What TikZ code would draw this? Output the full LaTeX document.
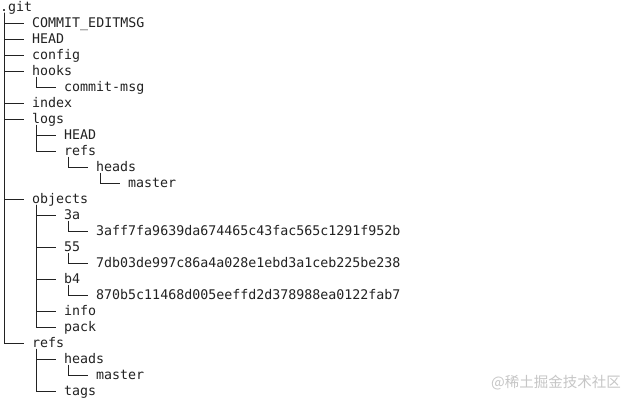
\documentclass[tikz,border=0pt]{standalone}
\usepackage{fontspec}
\newfontfamily\gitmono{DejaVu Sans Mono}
\newfontfamily\cjk{Noto Sans CJK SC}
\definecolor{ink}{HTML}{222222}
\definecolor{wmark}{HTML}{C6C6C6}
\begin{document}
\begin{tikzpicture}[x=1pt,y=-1pt,
  entry/.style={anchor=west, inner sep=0pt, text height=9pt, text depth=0pt,
                font=\gitmono\fontsize{13.3pt}{16pt}\selectfont, text=ink},
  branch/.style={draw=ink, line width=0.95pt}]
\useasboundingbox[fill=white] (0,0) rectangle (634,404);
% entries
\node[entry] (root)    at (0,7)    {.git};
\node[entry] (cem)     at (32,23)  {COMMIT\_EDITMSG};
\node[entry] (head)    at (32,39)  {HEAD};
\node[entry] (config)  at (32,55)  {config};
\node[entry] (hooks)   at (32,71)  {hooks};
\node[entry] (cmsg)    at (64,87)  {commit-msg};
\node[entry] (index)   at (32,103) {index};
\node[entry] (logs)    at (32,119) {logs};
\node[entry] (lhead)   at (64,135) {HEAD};
\node[entry] (lrefs)   at (64,151) {refs};
\node[entry] (lheads)  at (96,167) {heads};
\node[entry] (lmaster) at (128,183){master};
\node[entry] (objects) at (32,199) {objects};
\node[entry] (oa)      at (64,215) {3a};
\node[entry] (ha)      at (96,231) {3aff7fa9639da674465c43fac565c1291f952b};
\node[entry] (ob)      at (64,247) {55};
\node[entry] (hb)      at (96,263) {7db03de997c86a4a028e1ebd3a1ceb225be238};
\node[entry] (oc)      at (64,279) {b4};
\node[entry] (hc)      at (96,295) {870b5c11468d005eeffd2d378988ea0122fab7};
\node[entry] (info)    at (64,311) {info};
\node[entry] (pack)    at (64,327) {pack};
\node[entry] (refs)    at (32,343) {refs};
\node[entry] (rheads)  at (64,359) {heads};
\node[entry] (rmaster) at (96,375) {master};
\node[entry] (tags)    at (64,391) {tags};
% watermark
\node[anchor=east, inner sep=0pt, text=wmark, font=\cjk\fontsize{14.5pt}{16pt}\selectfont] (wm) at (621,383) {@稀土掘金技术社区};
% connectors
\foreach \p/\c in {root/cem, root/head, root/config, root/hooks, root/index, root/logs,
                   root/objects, root/refs,
                   hooks/cmsg, logs/lhead, logs/lrefs, lrefs/lheads, lheads/lmaster,
                   objects/oa, objects/ob, objects/oc, objects/info, objects/pack,
                   oa/ha, ob/hb, oc/hc,
                   refs/rheads, refs/tags, rheads/rmaster}
  \draw[branch] ([xshift=4.5pt,yshift=-1pt]\p.south west) |- ([xshift=-8pt]\c.west);
\end{tikzpicture}
\end{document}
